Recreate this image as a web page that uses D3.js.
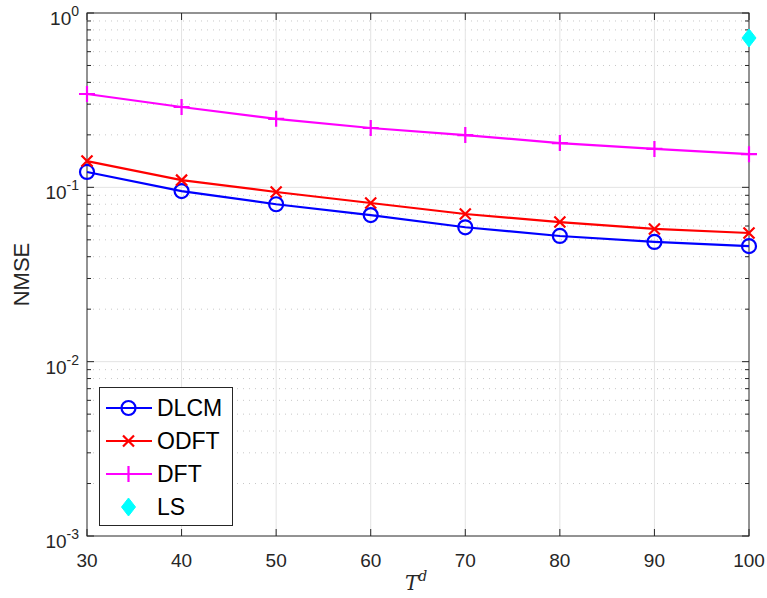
<!DOCTYPE html>
<html><head><meta charset="utf-8">
<script src="https://cdn.jsdelivr.net/npm/d3@7"></script>
<style>body{margin:0;background:#fff}svg{display:block}</style>
</head><body>
<svg id="c" width="767" height="598"></svg>
<script>
const xValues = [30, 40, 50, 60, 70, 80, 90, 100];
const dlcm = [0.1225, 0.0952, 0.080, 0.0693, 0.059, 0.0526, 0.0486, 0.046];
const odft = [0.1415, 0.110, 0.094, 0.0813, 0.0703, 0.0632, 0.0577, 0.0547];
const dft  = [0.343, 0.289, 0.247, 0.219, 0.1995, 0.1795, 0.166, 0.155];
const lsX = [100];
const lsY = [0.719];
const xTicks = [30, 40, 50, 60, 70, 80, 90, 100];
const yDecades = [-3, -2, -1, 0];
const seriesNames = ["DLCM", "ODFT", "DFT", "LS"];

const svg = d3.select("#c");
const L = 87, R = 749, T = 13, B = 536;
const x = d3.scaleLinear().domain([30, 100]).range([L, R]);
const y = d3.scaleLog().domain([1e-3, 1]).range([B, T]);

// grid
const g = svg.append("g");
const minors = [];
yDecades.slice(0, 3).forEach(e => { for (let k = 2; k <= 9; k++) minors.push(k * Math.pow(10, e)); });
g.selectAll(".mn").data(minors).enter().append("line")
  .attr("x1", L).attr("x2", R).attr("y1", d => y(d)).attr("y2", d => y(d))
  .attr("stroke", "#c8c8c8").attr("stroke-width", 1).attr("stroke-dasharray", "1,5");
g.selectAll(".mj").data(yDecades.slice(1, 3)).enter().append("line")
  .attr("x1", L).attr("x2", R).attr("y1", d => y(Math.pow(10, d))).attr("y2", d => y(Math.pow(10, d)))
  .attr("stroke", "#e3e3e3").attr("stroke-width", 1);
g.selectAll(".vx").data(xTicks.slice(1, -1)).enter().append("line")
  .attr("x1", d => x(d)).attr("x2", d => x(d)).attr("y1", T).attr("y2", B)
  .attr("stroke", "#e3e3e3").attr("stroke-width", 1);

// axes
const axCol = "#262626";
const tl = 7, tlm = 4;
const ax = svg.append("g").attr("stroke", axCol).attr("stroke-width", 1);
ax.append("rect").attr("x", L).attr("y", T).attr("width", R - L).attr("height", B - T).attr("fill", "none");
xTicks.forEach(v => {
  ax.append("line").attr("x1", x(v)).attr("x2", x(v)).attr("y1", B).attr("y2", B - tl);
  ax.append("line").attr("x1", x(v)).attr("x2", x(v)).attr("y1", T).attr("y2", T + tl);
});
yDecades.forEach(e => {
  const yy = y(Math.pow(10, e));
  ax.append("line").attr("x1", L).attr("x2", L + tl).attr("y1", yy).attr("y2", yy);
  ax.append("line").attr("x1", R).attr("x2", R - tl).attr("y1", yy).attr("y2", yy);
});
minors.forEach(v => {
  const yy = y(v);
  ax.append("line").attr("x1", L).attr("x2", L + tlm).attr("y1", yy).attr("y2", yy);
  ax.append("line").attr("x1", R).attr("x2", R - tlm).attr("y1", yy).attr("y2", yy);
});

const font = "'Liberation Sans', Arial, Helvetica, sans-serif";
svg.append("g").selectAll("text").data(xTicks).enter().append("text")
  .attr("x", d => x(d)).attr("y", B + 31).attr("text-anchor", "middle")
  .attr("font-family", font).attr("font-size", 19).attr("fill", axCol).text(d => d);
const yl = svg.append("g");
yDecades.forEach(e => {
  const t = yl.append("text").attr("x", L - 8).attr("y", y(Math.pow(10, e)) + 12)
    .attr("text-anchor", "end").attr("font-family", font).attr("font-size", 19).attr("fill", axCol);
  t.append("tspan").text("10");
  t.append("tspan").attr("dy", -9).attr("font-size", 14).text(String(e));
});
svg.append("text").attr("transform", `translate(29,${(T + B) / 2}) rotate(-90)`)
  .attr("text-anchor", "middle").attr("font-family", font).attr("font-size", 22).attr("fill", axCol).text("NMSE");
const xl = svg.append("text").attr("x", 405).attr("y", 590).attr("font-family", "'DejaVu Serif', 'Liberation Serif', serif")
  .attr("font-style", "italic").attr("font-size", 20).attr("fill", axCol);
xl.append("tspan").text("T");
xl.append("tspan").attr("dy", -9).attr("font-size", 14).text("d");

// series
const series = [
  { name: "DLCM", data: dlcm, color: "#0000ff", marker: "circle" },
  { name: "ODFT", data: odft, color: "#ff0000", marker: "x" },
  { name: "DFT", data: dft, color: "#ff00ff", marker: "plus" }
];
const line = d3.line().x((d, i) => x(xValues[i])).y(d => y(d));

function drawMarker(sel, type, cx, cy, color) {
  if (type === "circle") {
    sel.append("circle").attr("cx", cx).attr("cy", cy).attr("r", 7)
      .attr("fill", "none").attr("stroke", color).attr("stroke-width", 2.2);
  } else if (type === "x") {
    const s = 5.5;
    sel.append("path").attr("d", `M${cx - s},${cy - s}L${cx + s},${cy + s}M${cx - s},${cy + s}L${cx + s},${cy - s}`)
      .attr("stroke", color).attr("stroke-width", 2.2).attr("fill", "none");
  } else if (type === "plus") {
    const s = 8;
    sel.append("path").attr("d", `M${cx - s},${cy}L${cx + s},${cy}M${cx},${cy - s}L${cx},${cy + s}`)
      .attr("stroke", color).attr("stroke-width", 2.2).attr("fill", "none");
  } else if (type === "diamond") {
    sel.append("path").attr("d", `M${cx},${cy - 9}L${cx + 7},${cy}L${cx},${cy + 9}L${cx - 7},${cy}Z`)
      .attr("fill", color).attr("stroke", color).attr("stroke-width", 1);
  }
}

const sg = svg.append("g");
series.forEach(s => {
  sg.append("path").datum(s.data).attr("d", line).attr("fill", "none")
    .attr("stroke", s.color).attr("stroke-width", 2.2);
  s.data.forEach((v, i) => drawMarker(sg, s.marker, x(xValues[i]), y(v), s.color));
});
lsY.forEach((v, i) => drawMarker(sg, "diamond", x(lsX[i]), y(v), "#00ffff"));

// legend
const lg = svg.append("g");
lg.append("rect").attr("x", 99.5).attr("y", 387.5).attr("width", 133).attr("height", 138)
  .attr("fill", "#fff").attr("stroke", axCol).attr("stroke-width", 1);
const legItems = [
  { name: seriesNames[0], color: "#0000ff", marker: "circle", line: true },
  { name: seriesNames[1], color: "#ff0000", marker: "x", line: true },
  { name: seriesNames[2], color: "#ff00ff", marker: "plus", line: true },
  { name: seriesNames[3], color: "#00ffff", marker: "diamond", line: false }
];
const legY = [408, 441, 474, 507];
legItems.forEach((it, i) => {
  const yy = legY[i];
  if (it.line) lg.append("line").attr("x1", 106).attr("x2", 152).attr("y1", yy).attr("y2", yy)
    .attr("stroke", it.color).attr("stroke-width", 2.2);
  drawMarker(lg, it.marker, 128.5, yy, it.color);
  lg.append("text").attr("x", 157).attr("y", yy + 8).attr("font-family", font).attr("font-size", 23)
    .attr("fill", "#000").text(it.name);
});
</script>
</body></html>
